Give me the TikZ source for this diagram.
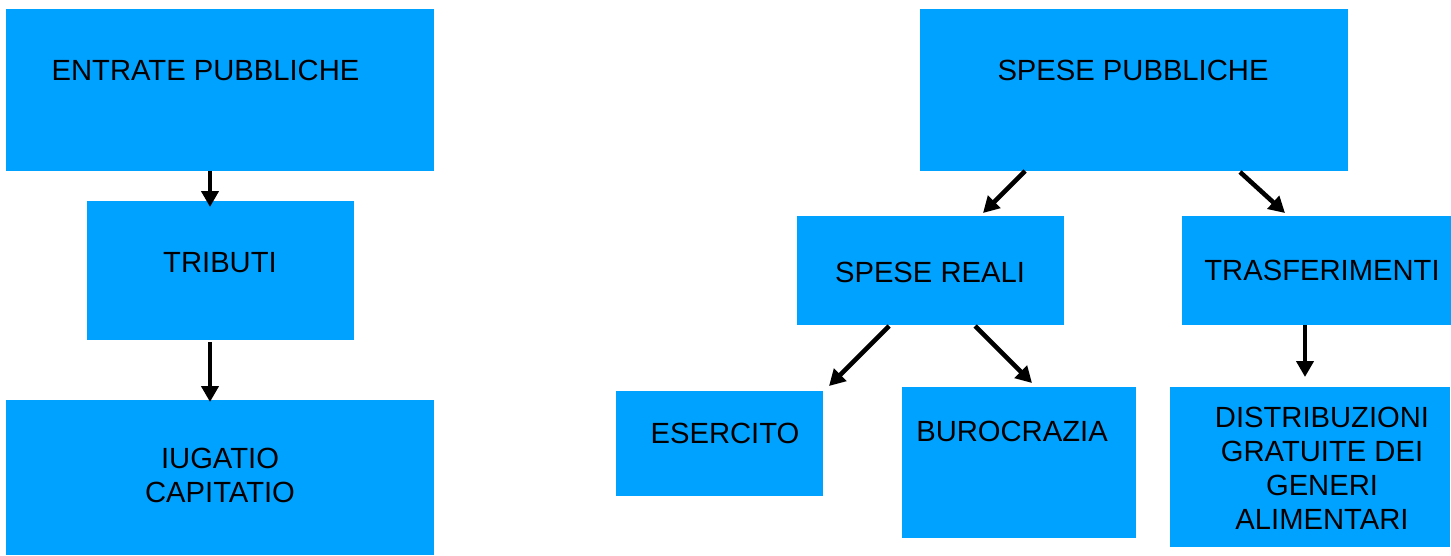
\documentclass[tikz,border=0pt]{standalone}
\usepackage{fontspec}
\setmainfont{Liberation Sans}
\usetikzlibrary{arrows.meta}
\definecolor{boxblue}{RGB}{0,162,255}
\tikzset{
  box/.style={rectangle, fill=boxblue, draw=none, inner sep=0pt, outer sep=0pt},
  txt/.style={inner sep=0pt, align=center, font=\fontsize{29.2}{34}\selectfont, text=black},
  arr/.style={line width=4.6pt, -{Triangle[length=16pt,width=17pt]}, black}
}
\begin{document}
\begin{tikzpicture}[x=1pt,y=-1pt]
\useasboundingbox (0,0) rectangle (1451,555);
% boxes (centers from pixel edges)
\node[box, minimum width=428pt, minimum height=162pt] (e)  at (220,90) {};
\node[box, minimum width=267pt, minimum height=139pt] (t)  at (220.5,270.5) {};
\node[box, minimum width=428pt, minimum height=155pt] (iu) at (220,477.5) {};
\node[box, minimum width=428pt, minimum height=162pt] (sp) at (1134,90) {};
\node[box, minimum width=267pt, minimum height=109pt] (sr) at (930.5,270.5) {};
\node[box, minimum width=269pt, minimum height=109pt] (tr) at (1316.5,270.5) {};
\node[box, minimum width=207pt, minimum height=105pt] (es) at (719.5,443.5) {};
\node[box, minimum width=234pt, minimum height=151pt] (bu) at (1019,462.5) {};
\node[box, minimum width=280pt, minimum height=160pt] (di) at (1310,467) {};
% texts
\node[txt] (et)  at (205.5,70) {ENTRATE PUBBLICHE};
\node[txt] (tt)  at (220,263) {TRIBUTI};
\node[txt] (iut) at (220,475) {IUGATIO\\CAPITATIO};
\node[txt] (spt) at (1133,70) {SPESE PUBBLICHE};
\node[txt] (srt) at (930,272) {SPESE REALI};
\node[txt] (trt) at (1322,270) {TRASFERIMENTI};
\node[txt] (est) at (725,433) {ESERCITO};
\node[txt] (but) at (1012,431) {BUROCRAZIA};
\node[txt] (dit) at (1322,468) {DISTRIBUZIONI\\GRATUITE DEI\\GENERI\\ALIMENTARI};
% arrows
\draw[arr] ([xshift=-10pt]e.south) -- ([xshift=-10.5pt,yshift=-6pt]t.north);
\draw[arr] ([xshift=-10.5pt,yshift=-2pt]t.south) -- ([xshift=-10pt,yshift=-2pt]iu.north);
\draw[arr] ([xshift=-109pt]sp.south) -- ([xshift=52.5pt,yshift=3pt]sr.north);
\draw[arr] ([xshift=106pt,yshift=-1pt]sp.south) -- ([xshift=-31.5pt,yshift=3pt]tr.north);
\draw[arr] ([xshift=-41.5pt,yshift=-1pt]sr.south) -- ([xshift=109.5pt,yshift=5pt]es.north);
\draw[arr] ([xshift=44.5pt,yshift=-1pt]sr.south) -- ([xshift=13pt,yshift=4pt]bu.north);
\draw[arr] ([xshift=-11.5pt]tr.south) -- ([xshift=-5pt,yshift=10pt]di.north);
\end{tikzpicture}
\end{document}
